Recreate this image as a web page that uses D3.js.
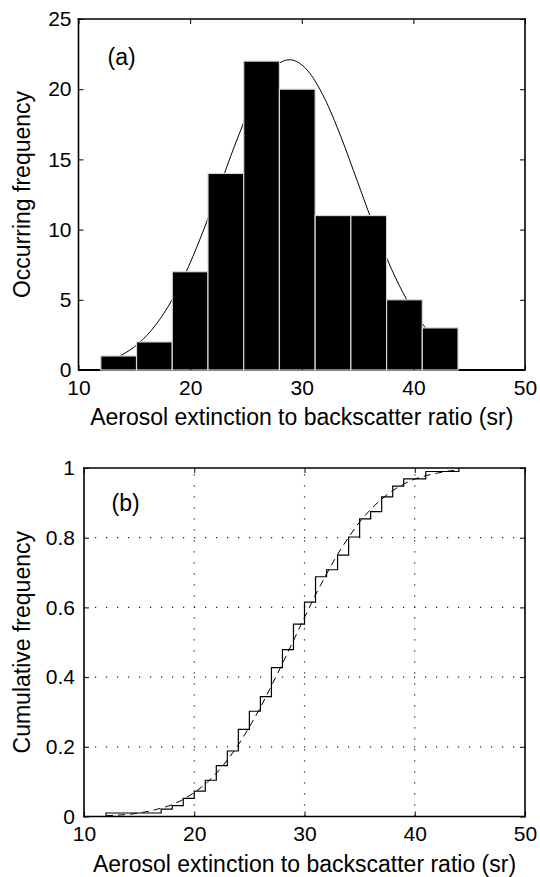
<!DOCTYPE html>
<html>
<head>
<meta charset="utf-8">
<script src="https://cdn.jsdelivr.net/npm/d3@7"></script>
<style>
  body { margin: 0; background: #fff; }
  svg text { font-family: "Liberation Sans", Arial, Helvetica, sans-serif; font-size: 23px; fill: #000; }
</style>
</head>
<body>
<div id="graf"></div>
<script>
// -- Datos --

// (a) histograma
const binEdges = [12, 15.2, 18.4, 21.6, 24.8, 28, 31.2, 34.4, 37.6, 40.8, 44]
const counts   = [1, 2, 7, 14, 22, 20, 11, 11, 5, 3]

// curva ajustada del histograma (leida punto a punto)
const fitX = [13.5, 15, 16.5, 18, 19.5, 21, 22.5, 24, 25.5, 27, 28.9, 30.5, 32, 33.5, 35, 36.5, 38, 39.5, 41, 42.4]
const fitY = [0.91, 1.65, 2.8, 4.48, 6.74, 9.55, 12.75, 16.0, 18.9, 21.06, 22.1, 21.35, 19.42, 16.63, 13.4, 10.17, 7.26, 4.88, 3.09, 1.91]

// (b) frecuencia acumulada empirica (escalones)
const cdfX = [12, 17, 18, 19, 20, 21, 22, 23, 24, 25, 26, 27, 28, 29, 30, 31, 32, 33, 34, 35, 36, 37, 38, 39, 41, 44]
const cdfY = [0.010, 0.021, 0.031, 0.052, 0.073, 0.104, 0.146, 0.188, 0.250, 0.302, 0.344, 0.427, 0.479, 0.552,
              0.615, 0.688, 0.708, 0.750, 0.802, 0.854, 0.875, 0.917, 0.948, 0.969, 0.990, 1.000]

// curva acumulada ajustada (discontinua)
const normX = [12, 13, 14, 15, 16, 17, 18, 19, 20, 21, 22, 23, 24, 25, 26, 27, 28, 29, 30, 31, 32, 33, 34, 35, 36, 37, 38, 39, 40, 41, 42, 43, 44]
const normY = [0.002, 0.004, 0.006, 0.010, 0.016, 0.024, 0.034, 0.049, 0.069, 0.093, 0.124, 0.162, 0.206, 0.257,
               0.313, 0.375, 0.439, 0.505, 0.571, 0.636, 0.696, 0.752, 0.801, 0.845, 0.881, 0.911, 0.935, 0.954,
               0.968, 0.978, 0.985, 0.991, 0.994]

// ticks
const xTicks  = [10, 20, 30, 40, 50]
const yTicksA = [0, 5, 10, 15, 20, 25]
const yTicksB = [0, 0.2, 0.4, 0.6, 0.8, 1]

const xLabel = 'Aerosol extinction to backscatter ratio (sr)'

// -- Canvas --
const ancho_total = 540
const alto_total = 877

const svg = d3.select('#graf').append('svg')
              .attr('width', ancho_total)
              .attr('height', alto_total)

const panelA = {left: 78.5, right: 525, top: 19, bottom: 370}
const panelB = {left: 84, right: 525, top: 468, bottom: 816.5}

function makeScales(p, yDomain) {
  const x = d3.scaleLinear().domain([10, 50]).range([p.left, p.right])
  const y = d3.scaleLinear().domain(yDomain).range([p.bottom, p.top])
  return {x, y}
}

function drawAxes(g, p, x, y, yTicks, yFmt, yPad) {
  const tick = 5
  // eje inferior con etiquetas
  g.append('g')
   .attr('transform', `translate(0, ${p.bottom})`)
   .call(d3.axisBottom(x).tickValues(xTicks).tickSizeInner(-tick).tickSizeOuter(0).tickPadding(10).tickFormat(d3.format('d')))
  // eje superior, solo marcas
  g.append('g')
   .attr('transform', `translate(0, ${p.top})`)
   .call(d3.axisTop(x).tickValues(xTicks).tickSizeInner(-tick).tickSizeOuter(0).tickFormat(''))
  // eje izquierdo
  g.append('g')
   .attr('transform', `translate(${p.left}, 0)`)
   .call(d3.axisLeft(y).tickValues(yTicks).tickSizeInner(-tick).tickSizeOuter(0).tickPadding(yPad).tickFormat(yFmt))
  // eje derecho, solo marcas
  g.append('g')
   .attr('transform', `translate(${p.right}, 0)`)
   .call(d3.axisRight(y).tickValues(yTicks).tickSizeInner(-tick).tickSizeOuter(0).tickFormat(''))

  g.selectAll('.domain').remove()
  g.selectAll('.tick line').attr('stroke', '#000').attr('stroke-width', 1)
  g.selectAll('.tick text')
   .attr('fill', '#000')
   .style('font-family', '"Liberation Sans", Arial, Helvetica, sans-serif')
   .style('font-size', '21px')
}

function drawBox(g, p, sinBase) {
  const lines = [
    [p.left, p.top, p.right, p.top],
    [p.left, p.top, p.left, p.bottom],
    [p.right, p.top, p.right, p.bottom]
  ]
  if (!sinBase) lines.push([p.left, p.bottom, p.right, p.bottom])
  g.selectAll(null)
   .data(lines)
   .enter()
   .append('line')
     .attr('x1', d => d[0]).attr('y1', d => d[1])
     .attr('x2', d => d[2]).attr('y2', d => d[3])
     .attr('stroke', '#000')
     .attr('stroke-width', 1.6)
     .attr('stroke-linecap', 'square')
}

function labels(g, p, yText) {
  g.append('text')
   .attr('x', (p.left + p.right) / 2)
   .attr('y', p.bottom + 55)
   .attr('text-anchor', 'middle')
   .text(xLabel)
  g.append('text')
   .attr('transform', `translate(30, ${(p.top + p.bottom) / 2}) rotate(-90)`)
   .attr('text-anchor', 'middle')
   .text(yText)
}

// ---------- (a) Histograma ----------
{
  const p = panelA
  const {x, y} = makeScales(p, [0, 25])
  const g = svg.append('g')

  // linea base primero, las barras van encima
  g.append('line')
   .attr('x1', p.left).attr('x2', p.right)
   .attr('y1', p.bottom).attr('y2', p.bottom)
   .attr('stroke', '#000').attr('stroke-width', 2)

  // curva ajustada (queda detras de las barras)
  const fit = fitX.map((d, i) => [d, fitY[i]])
  g.append('path')
   .datum(fit)
   .attr('fill', 'none')
   .attr('stroke', '#000')
   .attr('stroke-width', 1)
   .attr('d', d3.line().x(d => x(d[0])).y(d => y(d[1])).curve(d3.curveMonotoneX))

  const bins = counts.map((c, i) => ({x0: binEdges[i], x1: binEdges[i + 1], n: c}))
  g.selectAll('rect.bar')
   .data(bins)
   .enter()
   .append('rect')
     .attr('class', 'bar')
     .attr('x', d => x(d.x0))
     .attr('width', d => x(d.x1) - x(d.x0))
     .attr('y', d => y(d.n))
     .attr('height', d => y(0) - y(d.n))
     .attr('fill', '#000')
     .attr('stroke', '#d8d8d8')
     .attr('stroke-width', 1.2)

  drawAxes(g, p, x, y, yTicksA, d3.format('d'), 7)
  drawBox(g, p, true)
  labels(g, p, 'Occurring frequency')

  g.append('text')
   .attr('x', x(12.6))
   .attr('y', y(22.3))
   .attr('dy', '0.35em')
   .text('(a)')
}

// ---------- (b) Frecuencia acumulada ----------
{
  const p = panelB
  const {x, y} = makeScales(p, [0, 1])
  const g = svg.append('g')

  // rejilla punteada
  const gx = xTicks.filter(d => d > 10 && d < 50)
  const gy = yTicksB.filter(d => d > 0 && d < 1)
  g.selectAll('line.gx')
   .data(gx).enter().append('line')
     .attr('x1', d => x(d)).attr('x2', d => x(d))
     .attr('y1', p.bottom).attr('y2', p.top)
     .attr('stroke', '#222').attr('stroke-width', 1.2)
     .attr('stroke-dasharray', '1.2,9.8')
  g.selectAll('line.gy')
   .data(gy).enter().append('line')
     .attr('x1', p.left).attr('x2', p.right)
     .attr('y1', d => y(d)).attr('y2', d => y(d))
     .attr('stroke', '#222').attr('stroke-width', 1.2)
     .attr('stroke-dasharray', '1.2,9.8')

  // curva ajustada discontinua
  const norm = normX.map((d, i) => [d, normY[i]])
  g.append('path')
   .datum(norm)
   .attr('fill', 'none')
   .attr('stroke', '#000')
   .attr('stroke-width', 1)
   .attr('stroke-dasharray', '7,5')
   .attr('d', d3.line().x(d => x(d[0])).y(d => y(d[1])).curve(d3.curveMonotoneX))

  // escalones
  const steps = [[cdfX[0], 0]].concat(cdfX.map((d, i) => [d, cdfY[i]]))
  g.append('path')
   .datum(steps)
   .attr('fill', 'none')
   .attr('stroke', '#000')
   .attr('stroke-width', 1.2)
   .attr('d', d3.line().x(d => x(d[0])).y(d => y(d[1])).curve(d3.curveStepAfter))

  drawAxes(g, p, x, y, yTicksB, d => d === 0 || d === 1 ? d3.format('d')(d) : d3.format('.1f')(d), 9)
  drawBox(g, p, false)
  labels(g, p, 'Cumulative frequency')

  g.append('text')
   .attr('x', x(12.5))
   .attr('y', y(0.9))
   .attr('dy', '0.35em')
   .text('(b)')
}
</script>
</body>
</html>
